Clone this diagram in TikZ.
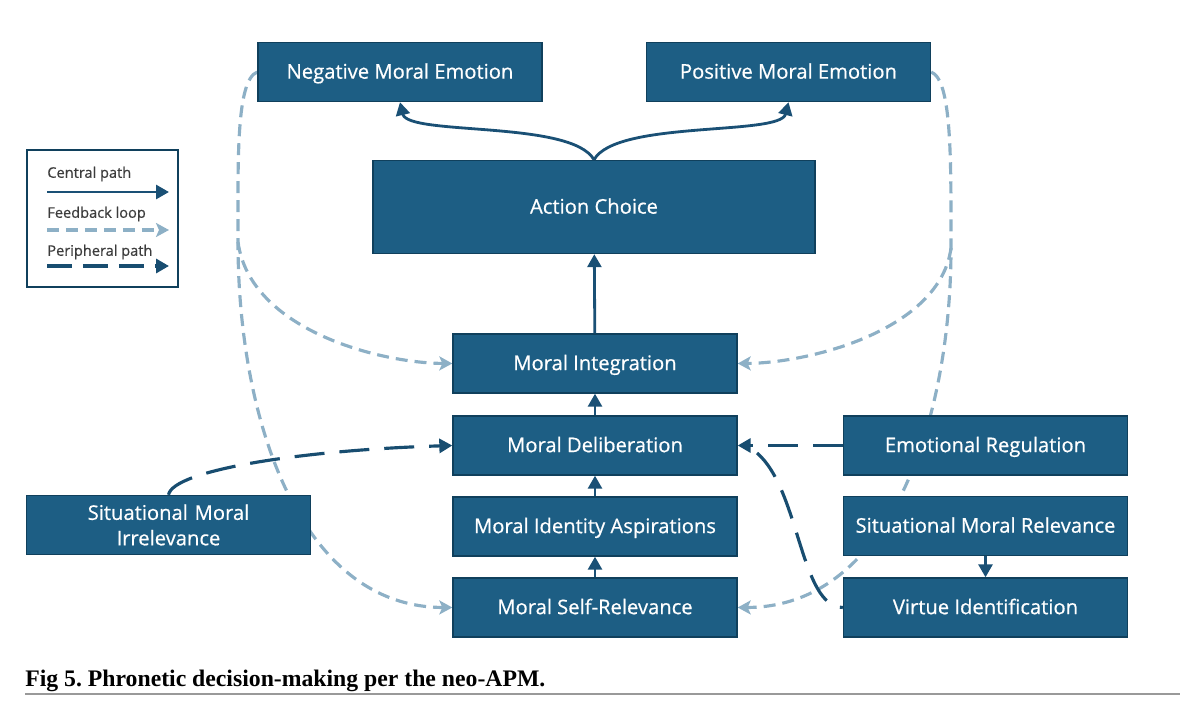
\documentclass[tikz,border=0pt]{standalone}
\usepackage{fontspec}
\setmainfont{Liberation Serif}
\setsansfont{Open Sans}
\newfontfamily\boxfont{Open Sans}[FakeBold=0.6]
\usepackage{tikz}
\usetikzlibrary{arrows.meta, positioning, backgrounds}
\definecolor{boxfill}{HTML}{1D5E84}
\definecolor{boxline}{HTML}{10405C}
\definecolor{central}{HTML}{1A5075}
\definecolor{feedback}{HTML}{8DB0C6}
\definecolor{periph}{HTML}{184D70}
\definecolor{legendtext}{HTML}{3C3C3C}
\tikzstyle{stage} = [rectangle, minimum width=5.68cm, minimum height=1.18cm, text centered, text height=2.1ex, text depth=0.45ex, draw=boxline, line width=0.8pt, fill=boxfill, text=white, font=\boxfont\fontsize{11.5}{14.5}\selectfont]
\tikzstyle{centralpath} = [draw=central, line width=1.6pt, -{Stealth[length=2.6mm, width=2.8mm, inset=0pt]}]
\tikzstyle{feedbackloop} = [draw=feedback, line width=1.8pt, dash pattern=on 0.24cm off 0.14cm, -{Stealth[length=2.6mm, width=2.8mm, inset=0.6mm]}]
\tikzstyle{peripheralpath} = [draw=periph, line width=1.8pt, dash pattern=on 0.6cm off 0.3cm, -{Stealth[length=2.6mm, width=2.8mm, inset=0pt]}]
\tikzstyle{legendlabel} = [anchor=west, inner sep=0pt, text=legendtext, font=\boxfont\fontsize{8.3}{10}\selectfont]

\begin{document}
\begin{tikzpicture}[x=0.02cm, y=-0.02cm]
\useasboundingbox (0,0) rectangle (1200,710);

% top row and action
\node (neg) [stage] at (400,72) {Negative Moral Emotion};
\node (pos) [stage] at (788.5,72) {Positive Moral Emotion};
\node (act) [stage, minimum width=8.84cm, minimum height=1.86cm] at (594,207) {Action Choice};

% central column
\node (integ) [stage] at (595,363.5) {Moral Integration};
\node (delib) [stage] at (595,445.5) {Moral Deliberation};
\node (ident) [stage] at (595,526.5) {Moral Identity Aspirations};
\node (self) [stage] at (595,607.5) {Moral Self-Relevance};

% side boxes
\node (irrel) [stage, text width=5.4cm, align=center, text height=, text depth=] at (168.5,525) {Situational Moral\\Irrelevance};
\node (emreg) [stage] at (985.5,445.5) {Emotional Regulation};
\node (relev) [stage] at (985.5,526) {Situational Moral Relevance};
\node (virt) [stage] at (985.5,607.5) {Virtue Identification};

% central path
\draw[centralpath] (act.north) .. controls (572,120) and (408,136) .. (neg.south);
\draw[centralpath] (act.north) .. controls (616,120) and (780,136) .. (pos.south);
\draw[centralpath] (integ) -- (act);
\draw[centralpath] (delib) -- (integ);
\draw[centralpath] (ident) -- (delib);
\draw[centralpath] (self) -- (ident);
\draw[centralpath] (relev) -- (virt);

% feedback loops (behind the boxes)
\coordinate (lsplit) at (238,242);
\coordinate (rsplit) at (951,248);
\begin{scope}[on background layer]
\draw[feedbackloop] (neg.west) .. controls (236,80) and (238,160) .. (lsplit) .. controls (238,420) and (300,607) .. (self.west);
\draw[feedbackloop] (lsplit) .. controls (250,330) and (380,363) .. (integ.west);
\draw[feedbackloop] (pos.east) .. controls (952,80) and (951,160) .. (rsplit) .. controls (951,420) and (890,607) .. (self.east);
\draw[feedbackloop] (rsplit) .. controls (940,330) and (810,363) .. (integ.east);
\end{scope}

% peripheral paths
\coordinate (dmerge) at (757,453);
\draw[peripheralpath] (irrel.north) .. controls (173,470) and (303,450) .. (delib.west);
\draw[peripheralpath] (emreg) -- (delib);
\draw[peripheralpath, -] (dmerge) .. controls (800,490) and (800,607) .. (virt.west);

% legend
\draw[draw=boxline, line width=0.8pt] (27,150) rectangle (178,287);
\node (lgc) [legendlabel] at (47,174) {Central path};
\node (lgf) [legendlabel] at (47,214) {Feedback loop};
\node (lgp) [legendlabel] at (47,252) {Peripheral path};
\coordinate (c1) at (47,192);
\coordinate (c2) at (169,192);
\coordinate (f1) at (47,230);
\coordinate (f2) at (169,230);
\coordinate (p1) at (47,266);
\coordinate (p2) at (169,266);
\draw[centralpath] (c1) -- (c2);
\draw[feedbackloop] (f1) -- (f2);
\draw[peripheralpath, dash pattern=on 0.5cm off 0.22cm] (p1) -- (p2);

% caption
\node (cap) [anchor=base west, inner sep=0pt, font=\bfseries\fontsize{13.5}{16}\selectfont] at (25,686) {Fig 5.\ Phronetic decision-making per the neo-APM.};
\draw[black!40, line width=1.4pt] (25,694) -- (1180,694);
\end{tikzpicture}
\end{document}
